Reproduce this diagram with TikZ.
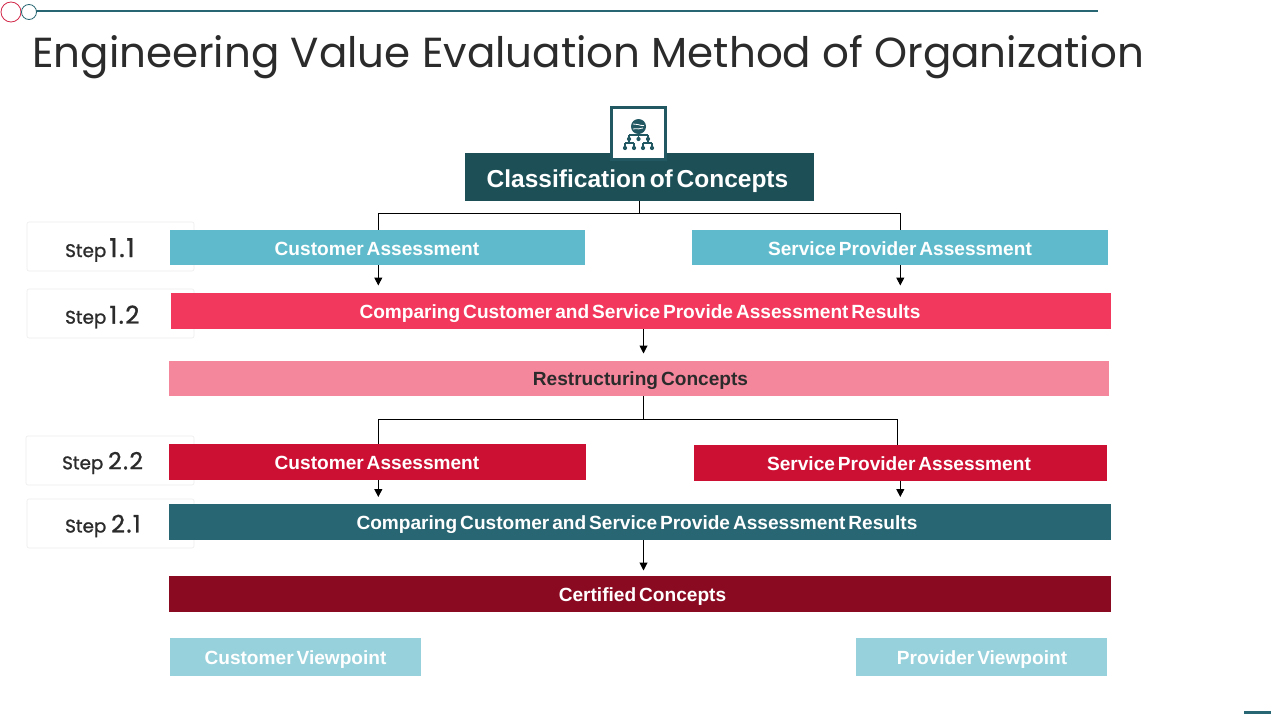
\documentclass[tikz,border=0pt]{standalone}
\usepackage{fontspec}
\setmainfont{Poppins}
\newfontfamily\barfont[WordSpace=0.55]{Liberation Sans}
\newfontfamily\stepfont[FakeBold=1.2]{Poppins}
\usetikzlibrary{arrows.meta,calc}
\definecolor{deep}{HTML}{1D4F57}
\definecolor{teal}{HTML}{276672}
\definecolor{aqua}{HTML}{5FBBCB}
\definecolor{rosey}{HTML}{F2385C}
\definecolor{pinky}{HTML}{F5879D}
\definecolor{crim}{HTML}{CC1033}
\definecolor{maroon}{HTML}{8A0A22}
\definecolor{pale}{HTML}{97D1DB}
\definecolor{ink}{HTML}{2B2B2B}
\newcommand{\bx}[8]{% name x0 y0 x1 y1 fill text-centre text
  \node[barbox,fill=#6,minimum width={(#4-#2)*1pt},minimum height={(#5-#3)*1pt}] (#1) at ({(#2+#4)/2},{(#3+#5)/2}) {};
  \node[bartext] (#1t) at (#7) {#8};}
\newcommand{\stp}[8]{% name x0 y0 x1 y1 text-x text-y text
  \node[stepcard,minimum width={(#4-#2)*1pt},minimum height={(#5-#3)*1pt}] (#1) at ({(#2+#4)/2},{(#3+#5)/2}) {};
  \node[steptext] (#1t) at (#6,#7) {#8};}
\newcommand{\num}[2]{{\fontsize{#2}{26}\selectfont\addfontfeatures{LetterSpace=6}#1}}
\tikzset{
  x=1pt,y=-1pt,
  barbox/.style={draw=none,inner sep=0pt,outer sep=0pt},
  bartext/.style={inner sep=0pt,text=white,font=\fontsize{19.1}{21}\barfont\bfseries},
  stepcard/.style={draw=black!7,line width=.6pt,fill=white,inner sep=0pt,outer sep=0pt,rounded corners=2pt},
  steptext/.style={anchor=west,inner sep=0pt,text=ink,font=\fontsize{18.3}{21}\stepfont},
  conn/.style={draw=black,line width=1pt},
  arr/.style={conn,-{Triangle[length=8pt,width=8pt]}},
}
\begin{document}
\begin{tikzpicture}
\useasboundingbox[fill=white] (0,0) rectangle (1280,720);
% header
\coordinate (rs) at (36,11);
\coordinate (re) at (1098,11);
\draw[teal,line width=1.5pt] (rs) -- (re);
\node[circle,draw=rosey!70!maroon,line width=.8pt,fill=white,minimum size=20pt,inner sep=0pt] (c1) at (11,12) {};
\node[circle,draw=teal,line width=.8pt,fill=white,minimum size=15pt,inner sep=0pt] (c2) at (29,12) {};
\node[anchor=base west,inner sep=0pt,text=ink,font=\fontsize{42}{50}\selectfont] (title) at (32,67) {Engineering Value Evaluation Method of Organization};
% step cards
\stp{s1}{27}{222}{194}{271}{65}{250}{Step\,\num{1.1}{26}}
\stp{s2}{27}{289}{194}{338}{65}{317}{Step\,\num{1.2}{24.5}}
\stp{s3}{26}{436}{194}{485}{62}{463}{Step \num{2.2}{23.5}}
\stp{s4}{27}{499}{194}{548}{65}{526}{Step \num{2.1}{24}}
% bars
\bx{cc}{465}{153}{814}{201}{deep}{637.5,181}{\fontsize{24.5}{26}\barfont\bfseries Classification of Concepts}
\bx{ca}{170}{230}{585}{265}{aqua}{377,248.5}{Customer Assessment}
\bx{sa}{692}{230}{1108}{265}{aqua}{900,248.5}{Service Provider Assessment}
\bx{cp}{171}{293}{1111}{329}{rosey}{640,313.5}{Comparing Customer and Service Provide Assessment Results}
\bx{rc}{169}{361}{1109}{396}{pinky}{640.5,380.5}{\textcolor{ink}{Restructuring Concepts}}
\bx{cb}{169}{444}{586}{480}{crim}{377,462.5}{Customer Assessment}
\bx{sb}{694}{445}{1107}{481}{crim}{899,463.5}{Service Provider Assessment}
\bx{cq}{169}{504}{1111}{540}{teal}{637,524.5}{Comparing Customer and Service Provide Assessment Results}
\bx{ce}{169}{576}{1111}{612}{maroon}{642.5,596.5}{Certified Concepts}
\bx{cv}{170}{638}{421}{676}{pale}{295.5,659.5}{Customer Viewpoint}
\bx{pv}{856}{638}{1107}{676}{pale}{982,659.5}{Provider Viewpoint}
% icon
\node[draw=deep!60!teal,line width=3pt,fill=white,minimum width=54pt,minimum height=52pt,inner sep=0pt] (ic) at (638.5,133.5) {};
\fill[deep!60!teal] (638.5,126.5) circle (7.5);
\draw[white,line width=.8pt] (633,124) .. controls (637,123) and (639,126) .. (644,125.5) (633,129) .. controls (637,128) and (640,130) .. (643,128);
\draw[deep!60!teal,line width=1.1pt] (638.5,133) -- (638.5,139) (629,135) -- (648,135) (629,135) -- (629,143) (648,135) -- (648,143)
 (625,143) -- (634,143) (643,143) -- (652,143) (625,143) -- (625,148) (634,143) -- (634,148) (643,143) -- (643,148) (652,143) -- (652,148);
\foreach \px/\py in {625/148,634/148,643/148,652/148,629/139,638.5/139,648/139} \fill[deep!60!teal] (\px,\py) circle (2.1);
% connectors
\coordinate (j1) at (cc.south |- 0,213);
\coordinate (la) at (378,213);
\coordinate (lb) at (900,213);
\draw[conn] (cc.south) -- (j1);
\draw[conn] (la) -- (lb);
\draw[conn] (la) -- (378,230);
\draw[conn] (lb) -- (900,230);
\draw[arr] (378.3,265) -- (378.3,285.5);
\draw[arr] (900.3,265) -- (900.3,285.5);
\draw[arr] (643.5,329) -- (643.5,353.5);
\draw[conn] (643.5,396) -- (643.5,419);
\draw[conn] (378,419) -- (897.5,419);
\draw[conn] (378,419) -- (378,444);
\draw[conn] (897.5,419) -- (897.5,445);
\draw[arr] (378.3,480) -- (378.3,497);
\draw[arr] (900.3,481) -- (900.3,497);
\draw[arr] (643.5,540) -- (643.5,570.5);
% footer dash
\fill[teal] (1244,711) rectangle (1271,714);
\end{tikzpicture}
\end{document}
